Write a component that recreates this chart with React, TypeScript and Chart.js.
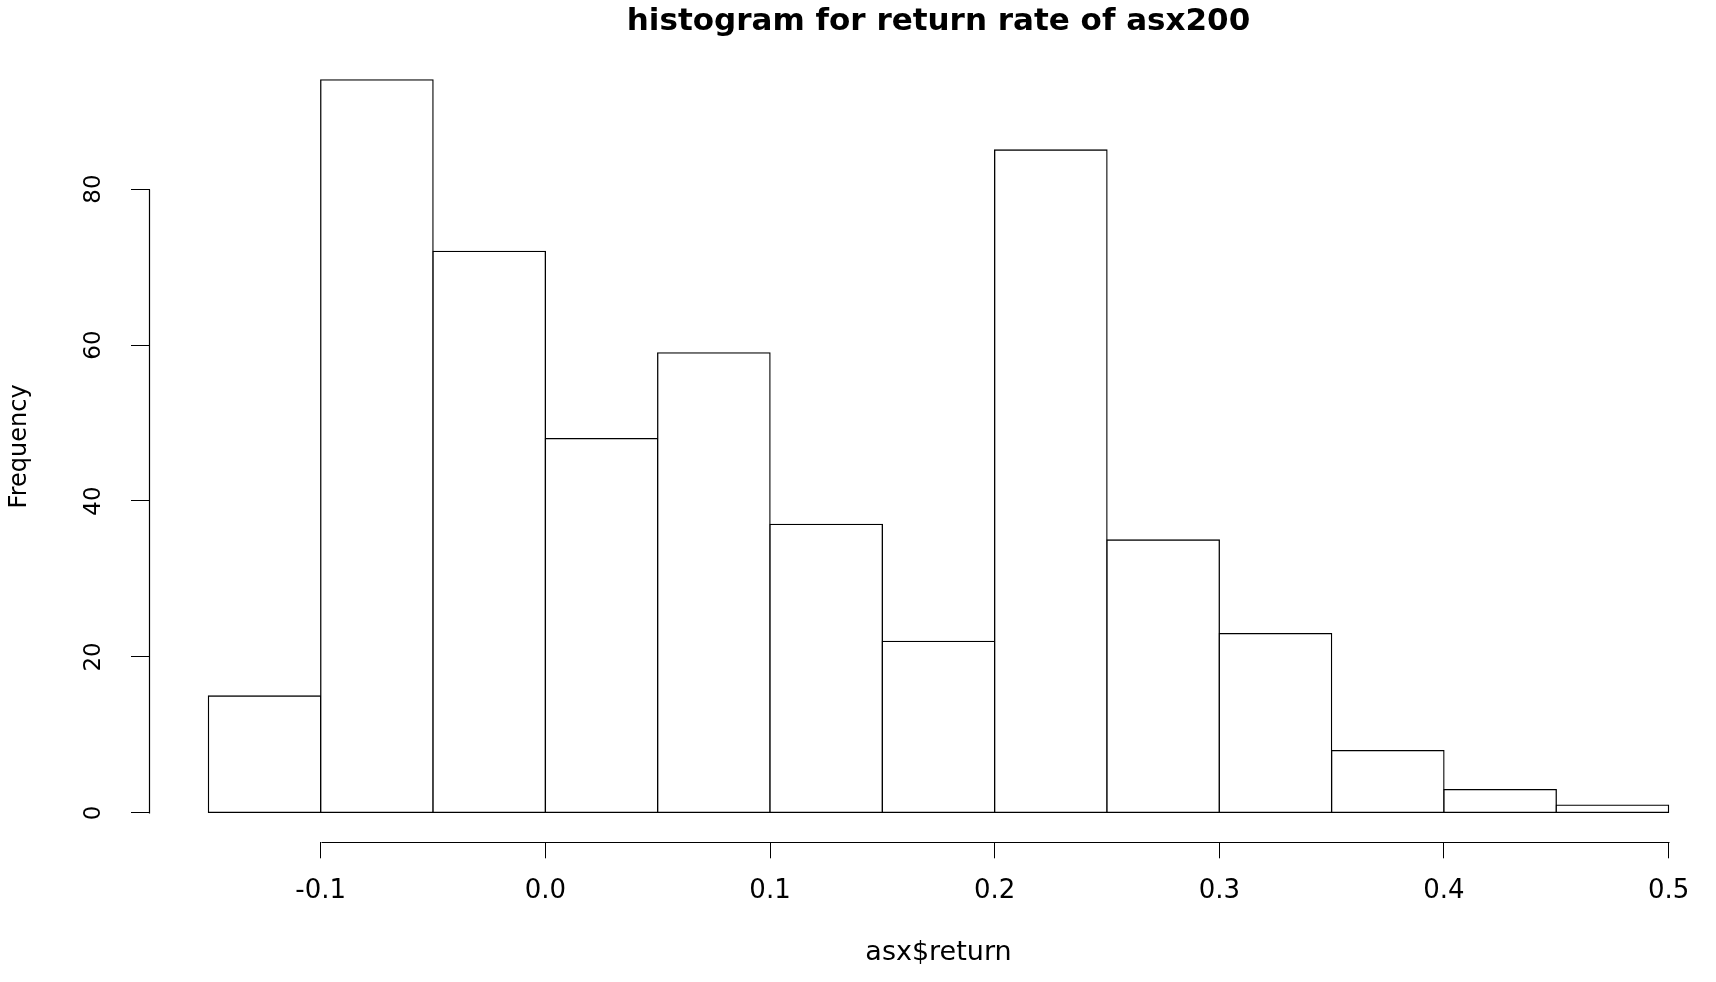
import React, { useEffect, useRef } from "react";
import { Chart, registerables } from "chart.js";

Chart.register(...registerables);

const binEdges = [-0.15, -0.1, -0.05, 0.0, 0.05, 0.1, 0.15, 0.2, 0.25, 0.3, 0.35, 0.4, 0.45, 0.5];
const counts = [15, 94, 72, 48, 59, 37, 22, 85, 35, 23, 8, 3, 1];
const xTickValues = [-0.1, 0.0, 0.1, 0.2, 0.3, 0.4, 0.5];
const xTickLabels = ["-0.1", "0.0", "0.1", "0.2", "0.3", "0.4", "0.5"];
const yTickValues = [0, 20, 40, 60, 80];
const yTickLabels = ["0", "20", "40", "60", "80"];

const titleText = "histogram for return rate of asx200";
const xTitle = "asx$return";
const yTitle = "Frequency";

const FONT = "'DejaVu Sans', 'Liberation Sans', Arial, sans-serif";

export default function App() {
  const ref = useRef<HTMLCanvasElement | null>(null);

  useEffect(() => {
    if (!ref.current) return;
    const points = counts.map((c, i) => ({ x: (binEdges[i] + binEdges[i + 1]) / 2, y: c }));
    const span = binEdges[binEdges.length - 1] - binEdges[0];
    const xMin = binEdges[0] - 0.04 * span;
    const xMax = binEdges[binEdges.length - 1] + 0.04 * span;
    const yTop = Math.max(...counts);
    const yMin = -0.04 * yTop;
    const yMax = yTop * 1.04;

    const axisLines = {
      id: "axisLines",
      afterDraw(chart: any) {
        const { ctx, chartArea, scales } = chart;
        const xs = scales.x;
        const ys = scales.y;
        ctx.save();
        ctx.strokeStyle = "#000";
        ctx.lineWidth = 1.2;
        const lx = Math.round(chartArea.left) - 0.5;
        const by = Math.round(chartArea.bottom) + 0.5;
        ctx.beginPath();
        ctx.moveTo(lx, Math.round(ys.getPixelForValue(yTickValues[0])) + 0.5);
        ctx.lineTo(lx, Math.round(ys.getPixelForValue(yTickValues[yTickValues.length - 1])) + 0.5);
        ctx.moveTo(Math.round(xs.getPixelForValue(xTickValues[0])) + 0.5, by);
        ctx.lineTo(Math.round(xs.getPixelForValue(xTickValues[xTickValues.length - 1])) + 0.5, by);
        ctx.stroke();
        ctx.restore();
      },
    };

    const chart = new Chart(ref.current, {
      type: "bar",
      data: {
        datasets: [
          {
            data: points as any,
            backgroundColor: "#ffffff",
            borderColor: "#000000",
            borderWidth: 1.3,
            borderSkipped: false,
            barPercentage: 1,
            categoryPercentage: 1,
            inflateAmount: 0.65,
          } as any,
        ],
      },
      options: {
        responsive: false,
        animation: false,
        layout: { padding: { left: 0, right: 3, top: 0, bottom: 0 } },
        plugins: {
          legend: { display: false },
          tooltip: { enabled: false },
          title: {
            display: true,
            text: titleText,
            color: "#000",
            fullSize: false,
            font: { family: FONT, size: 31, weight: "bold", lineHeight: 1.2 },
            padding: { top: 3.4, bottom: 9.9 },
          },
        },
        scales: {
          x: {
            type: "linear",
            min: xMin,
            max: xMax,
            offset: false,
            grid: {
              display: true,
              offset: false,
              drawOnChartArea: false,
              drawTicks: true,
              tickLength: 16,
              color: "#000",
              lineWidth: 1,
            },
            border: { display: false },
            afterBuildTicks: (s: any) => {
              s.ticks = xTickValues.map((v) => ({ value: v }));
            },
            ticks: {
              color: "#000",
              font: { family: FONT, size: 26 },
              padding: 17.5,
              maxRotation: 0,
              minRotation: 0,
              autoSkip: false,
              callback: (_v: any, i: number) => xTickLabels[i],
            },
            title: {
              display: true,
              text: xTitle,
              color: "#000",
              font: { family: FONT, size: 27, lineHeight: 1.2 },
              padding: { top: 0, bottom: 12.6 },
            },
            afterFit: (s: any) => {
              s.height = 982 - 842.3;
              s.paddingLeft = 0;
              s.paddingRight = 0;
            },
          },
          y: {
            type: "linear",
            min: yMin,
            max: yMax,
            grid: {
              display: true,
              offset: false,
              drawOnChartArea: false,
              drawTicks: true,
              tickLength: 19,
              color: "#000",
              lineWidth: 1,
            },
            border: { display: false },
            afterBuildTicks: (s: any) => {
              s.ticks = yTickValues.map((v) => ({ value: v }));
            },
            ticks: {
              color: "#000",
              font: { family: FONT, size: 23 },
              padding: 22.2,
              minRotation: 90,
              maxRotation: 90,
              crossAlign: "center",
              autoSkip: false,
              callback: (_v: any, i: number) => yTickLabels[i],
            },
            title: {
              display: true,
              text: yTitle,
              color: "#000",
              font: { family: FONT, size: 24, lineHeight: 1.2 },
              padding: { top: 5.6, bottom: 0 },
            },
            afterFit: (s: any) => {
              s.width = 150;
              s.paddingTop = 0;
              s.paddingBottom = 0;
            },
          },
        },
      },
      plugins: [axisLines],
    });
    return () => chart.destroy();
  }, []);

  return (
    <div
      style={{
        position: "fixed",
        left: 0,
        top: 0,
        width: 1716,
        height: 982,
        overflow: "hidden",
        background: "#ffffff",
      }}
    >
      <canvas ref={ref} width={1730} height={982} style={{ display: "block" }} />
    </div>
  );
}
